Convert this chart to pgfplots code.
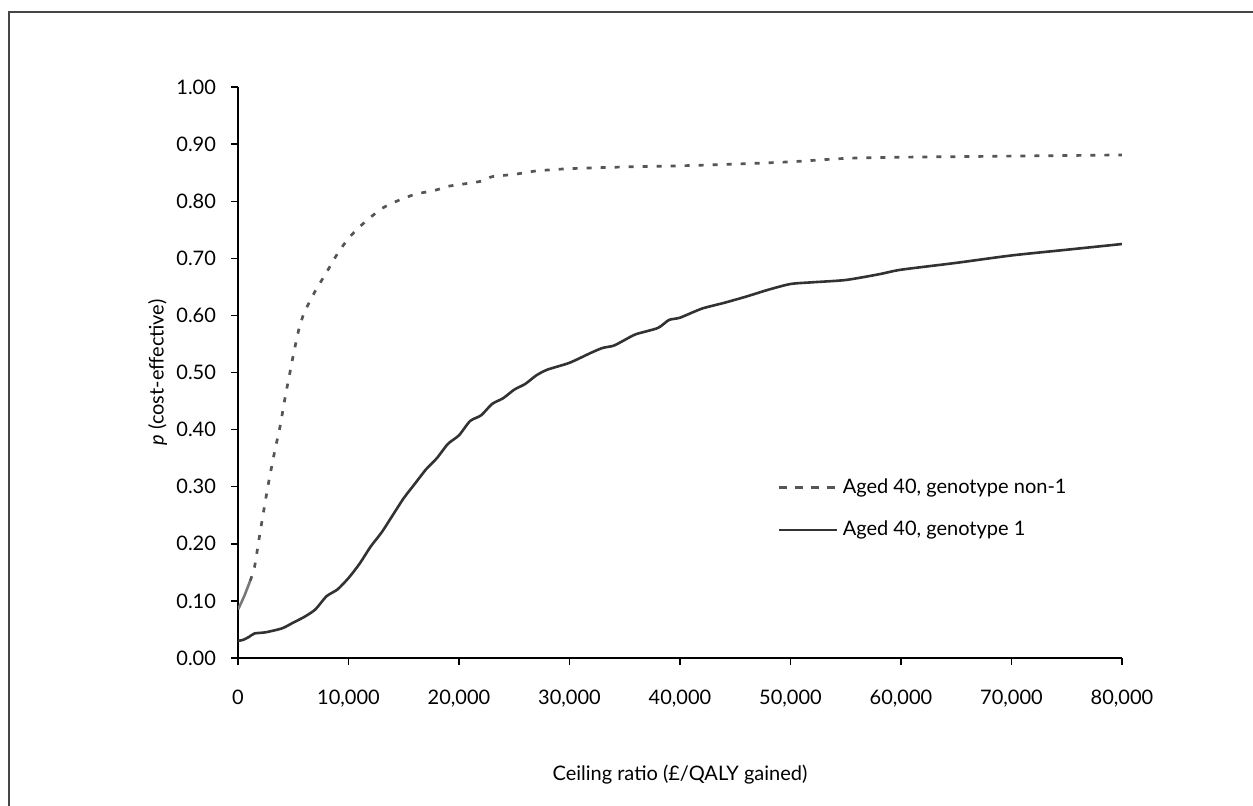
\documentclass[border=0pt]{standalone}
\usepackage{pgfplots}
\pgfplotsset{compat=1.18}
\usepackage{fontspec}
\setmainfont{Lato}
\definecolor{dashgray}{RGB}{85,85,85}
\definecolor{solidgray}{RGB}{50,50,50}
\definecolor{startgray}{RGB}{120,120,120}
\definecolor{framegray}{RGB}{70,70,70}
\begin{document}
\begin{tikzpicture}
\useasboundingbox (0,0) rectangle (626.5pt,402.5pt);
\draw[framegray, line width=1pt] (4.5pt,-20pt) rectangle (650pt,396.5pt);
\begin{axis}[
  at={(119pt,73.5pt)}, anchor=origin,
  scale only axis, width=442pt, height=285.5pt,
  xmin=0, xmax=80000, ymin=0, ymax=1,
  axis lines*=left,
  axis line style={line width=0.7pt, black},
  tick style={line width=0.7pt, black},
  tick align=outside, major tick length=3.5pt,
  xtick={0,10000,...,80000},
  ytick={0,0.1,...,1.0},
  scaled ticks=false,
  font=\fontsize{10}{12}\selectfont,
  xticklabel style={yshift=-9pt, /pgf/number format/.cd, fixed, 1000 sep={,}, precision=0, assume math mode=true},
  yticklabel style={xshift=-4pt, /pgf/number format/.cd, fixed, fixed zerofill, precision=2, assume math mode=true},
  xlabel={Ceiling ratio (£/QALY gained)},
  ylabel={\textit{p} (cost-effective)},
  xlabel style={at={(axis description cs:0.5,-0.205)}, anchor=center},
  ylabel style={at={(axis description cs:-0.091,0.5)}, anchor=center},
  legend style={draw=none, fill=none, at={(0.61,0.322)}, anchor=north west,
    font=\fontsize{10}{12}\selectfont, row sep=8.5pt, inner sep=0pt},
  legend cell align=left,
  legend image code/.code={\draw[#1] (0pt,0pt) -- (29pt,0pt);},
]
\addplot[forget plot, startgray, line width=1.3pt] coordinates {
(0,0.085) (300,0.097) (600,0.11) (900,0.125) (1100,0.135)
};
\addplot[forget plot, dashgray, line width=1.35pt, dash pattern=on 2.5pt off 4.5pt, smooth, tension=0.4] coordinates {
(1100,0.135) (1500,0.16) (2000,0.22) (2700,0.30) (3300,0.36) (3800,0.405)
(4300,0.46) (4700,0.50) (5000,0.53) (5500,0.575) (6000,0.605) (7000,0.643)
(8000,0.675) (9000,0.708) (10000,0.735) (11000,0.755) (12000,0.772)
(13000,0.787) (14000,0.797) (15000,0.805) (16000,0.812) (17000,0.816)
(18000,0.82) (19000,0.826) (20000,0.829) (22000,0.835) (23000,0.843)
(25000,0.847) (27000,0.853) (30000,0.857) (35000,0.86) (40000,0.862)
(45000,0.865) (50000,0.869) (55000,0.875) (60000,0.877) (70000,0.879)
(80000,0.881)
};
\addlegendimage{dashgray, line width=1.6pt, dash pattern=on 4pt off 4pt}
\addlegendentry{Aged 40, genotype non-1}
\addplot[solidgray, line width=1.3pt, smooth, tension=0.4] coordinates {
(0,0.03) (500,0.032) (1000,0.037) (1500,0.043) (2500,0.045) (4000,0.052)
(5000,0.062) (6000,0.072) (7000,0.085) (8000,0.108) (9000,0.12)
(10000,0.14) (11000,0.165) (12000,0.195) (13000,0.22) (14000,0.25)
(15000,0.28) (16000,0.305) (17000,0.33) (18000,0.35) (19000,0.375)
(20000,0.39) (21000,0.415) (22000,0.425) (23000,0.445) (24000,0.455)
(25000,0.47) (26000,0.48) (27000,0.495) (28000,0.505) (30000,0.517)
(32000,0.535) (33000,0.543) (34000,0.547) (35000,0.557) (36000,0.567)
(38000,0.578) (39000,0.592) (40000,0.596) (42000,0.612) (44000,0.622)
(46000,0.633) (48000,0.645) (50000,0.655) (52000,0.658) (55000,0.662)
(58000,0.672) (60000,0.68) (65000,0.692) (70000,0.705) (75000,0.715)
(80000,0.725)
};
\addlegendentry{Aged 40, genotype 1}
\end{axis}
\end{tikzpicture}
\end{document}
